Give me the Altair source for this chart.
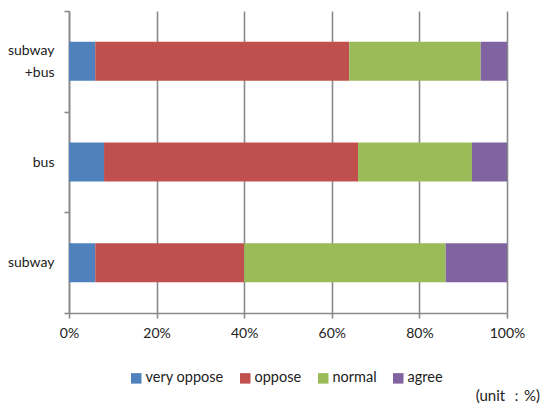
import altair as alt
import pandas as pd

# Survey responses per transit mode (percent of respondents)
modes = ["subway\n+bus", "bus", "subway"]
levels = ["very oppose", "oppose", "normal", "agree"]
very_oppose = [6, 8, 6]
oppose = [58, 58, 34]
normal = [30, 26, 46]
agree = [6, 8, 14]
colors = ["#4F81BD", "#C0504D", "#9BBB59", "#8064A2"]

rows = []
for i, m in enumerate(modes):
    for k, (lvl, vals) in enumerate(zip(levels, [very_oppose, oppose, normal, agree])):
        rows.append({"mode": m, "level": lvl, "value": vals[i], "rank": k})
df = pd.DataFrame(rows)

FONT = "Lato"
GRID = "#8a8a8a"

chart = (
    alt.Chart(df)
    .mark_bar(size=39)
    .encode(
        x=alt.X(
            "value:Q",
            stack="normalize",
            scale=alt.Scale(domain=[0, 1], nice=False),
            axis=alt.Axis(
                format="%",
                values=[0, 0.2, 0.4, 0.6, 0.8, 1.0],
                title=None,
                grid=True,
                gridColor=GRID,
                gridWidth=1.6,
                domainColor=GRID,
                domainWidth=1.6,
                tickColor=GRID,
                tickWidth=1.6,
                tickSize=5,
                labelFont=FONT,
                labelFontSize=14,
                labelColor="#222222",
                labelPadding=8,
                labelFlush=False,
            ),
        ),
        y=alt.Y(
            "mode:N",
            sort=modes,
            scale=alt.Scale(paddingInner=0, paddingOuter=0),
            axis=alt.Axis(
                title=None,
                tickBand="extent",
                domainColor=GRID,
                domainWidth=1.6,
                tickColor=GRID,
                tickWidth=1.6,
                tickSize=5,
                labelFont=FONT,
                labelFontSize=14,
                labelColor="#222222",
                labelPadding=10,
                labelExpr="split(datum.label, '\\n')",
                labelLineHeight=22,
                labelOffset={
                    "condition": {"test": "indexof(datum.label, '\\n') >= 0", "value": -11},
                    "value": 0,
                },
            ),
        ),
        color=alt.Color(
            "level:N",
            sort=levels,
            scale=alt.Scale(domain=levels, range=colors),
            legend=alt.Legend(
                title=None,
                orient="none",
                direction="horizontal",
                legendX=60,
                legendY=360,
                symbolType="square",
                symbolSize=110,
                symbolStrokeWidth=0,
                labelFont=FONT,
                labelFontSize=14.5,
                labelColor="#222222",
                labelOffset=2,
                columnPadding=14,
            ),
        ),
        order=alt.Order("rank:Q"),
    )
    .properties(
        width=438,
        height=302,
        autosize=alt.AutoSizeParams(type="none"),
        padding={"left": 69, "top": 11, "right": 36, "bottom": 96},
        title=alt.TitleParams(
            "(unit ：%)",
            orient="bottom",
            anchor="end",
            frame="group",
            align="right",
            font=FONT,
            fontSize=15,
            fontWeight="normal",
            color="#222222",
            offset=4,
            dx=33,
        ),
    )
    .configure_view(stroke=None)
)

chart.save("out.html", embed_options={"renderer": "svg", "actions": False})
